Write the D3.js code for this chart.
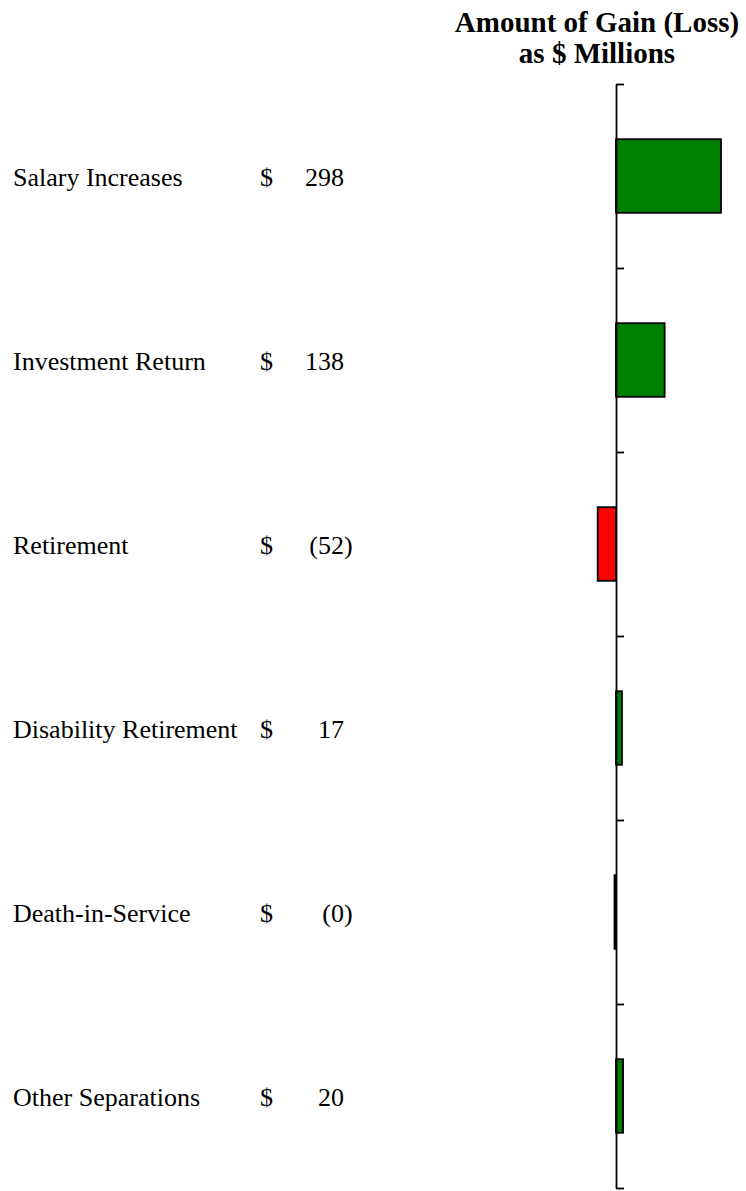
<!DOCTYPE html>
<html>
<head>
<meta charset="utf-8">
<script src="https://cdn.jsdelivr.net/npm/d3@7"></script>
<style>
  body { margin: 0; background: #fff; }
  text { font-family: "Liberation Serif", "Times New Roman", serif; fill: #000; }
</style>
</head>
<body>
<div id="chart"></div>
<script>
// chart data
var categories = ["Salary Increases", "Investment Return", "Retirement",
  "Disability Retirement", "Death-in-Service", "Other Separations"];
var gains = [298, 138, -52, 17, -0.4, 20];
var titleLines = ["Amount of Gain (Loss)", "as $ Millions"];

var svgWidth = 746;
var svgHeight = 1191;

var svg = d3.select("#chart")
  .append("svg")
  .attr("width", svgWidth)
  .attr("height", svgHeight);

var data = categories.map(function (c, i) {
  return { name: c, value: gains[i] };
});

// y: one band per category
var yBand = d3.scaleBand()
  .domain(categories)
  .range([84, 1188])
  .paddingInner(0.6)
  .paddingOuter(0.3);

// axis ticks sit on band boundaries
var yEdges = d3.scaleLinear()
  .domain([0, categories.length])
  .range([84, 1188]);

// x: zero line at the axis
var xScale = d3.scaleLinear()
  .domain([0, 298])
  .range([616, 721]);

// title
svg.append("text")
  .attr("text-anchor", "middle")
  .attr("font-weight", "bold")
  .attr("font-size", "29px")
  .selectAll("tspan")
  .data(titleLines)
  .enter()
  .append("tspan")
  .attr("x", 597)
  .attr("y", (d, i) => 32 + i * 31)
  .text(d => d);

// bars (tiny values still drawn as a thin sliver)
svg.selectAll(".bar")
  .data(data)
  .enter()
  .append("rect")
  .attr("class", "bar")
  .attr("x", function (d) {
    var w = Math.max(1.5, Math.abs(xScale(d.value) - xScale(0)));
    return d.value < 0 ? xScale(0) - w : xScale(0);
  })
  .attr("y", d => yBand(d.name))
  .attr("width", d => Math.max(1.5, Math.abs(xScale(d.value) - xScale(0))))
  .attr("height", yBand.bandwidth())
  .attr("fill", d => d.value >= 0 ? "#008000" : "#ff0000")
  .attr("stroke", "#000")
  .attr("stroke-width", 1.8);

// axis
var axis = svg.append("g")
  .attr("transform", `translate(${xScale(0)}, 0)`)
  .call(d3.axisRight(yEdges)
    .tickValues(d3.range(0, categories.length + 1))
    .tickFormat("")
    .tickSize(8)
    .tickSizeOuter(0));
axis.select(".domain").attr("stroke", "#000").attr("stroke-width", 1.8);
axis.selectAll(".tick line").attr("stroke", "#000").attr("stroke-width", 1.8);

// row labels
var rows = svg.selectAll(".row")
  .data(data)
  .enter()
  .append("g")
  .attr("class", "row")
  .attr("transform", d => `translate(0, ${yBand(d.name) + yBand.bandwidth() / 2})`);

rows.append("text")
  .attr("x", 13)
  .attr("dy", "0.37em")
  .attr("font-size", "26px")
  .text(d => d.name);

rows.append("text")
  .attr("x", 260)
  .attr("dy", "0.37em")
  .attr("font-size", "26px")
  .text("$");

rows.append("text")
  .attr("x", 344)
  .attr("dx", d => d.value < 0 ? "0.333em" : 0)
  .attr("dy", "0.37em")
  .attr("text-anchor", "end")
  .attr("font-size", "26px")
  .text(function (d) {
    var v = Math.abs(Math.round(d.value));
    return d.value < 0 ? "(" + v + ")" : v;
  });
</script>
</body>
</html>
